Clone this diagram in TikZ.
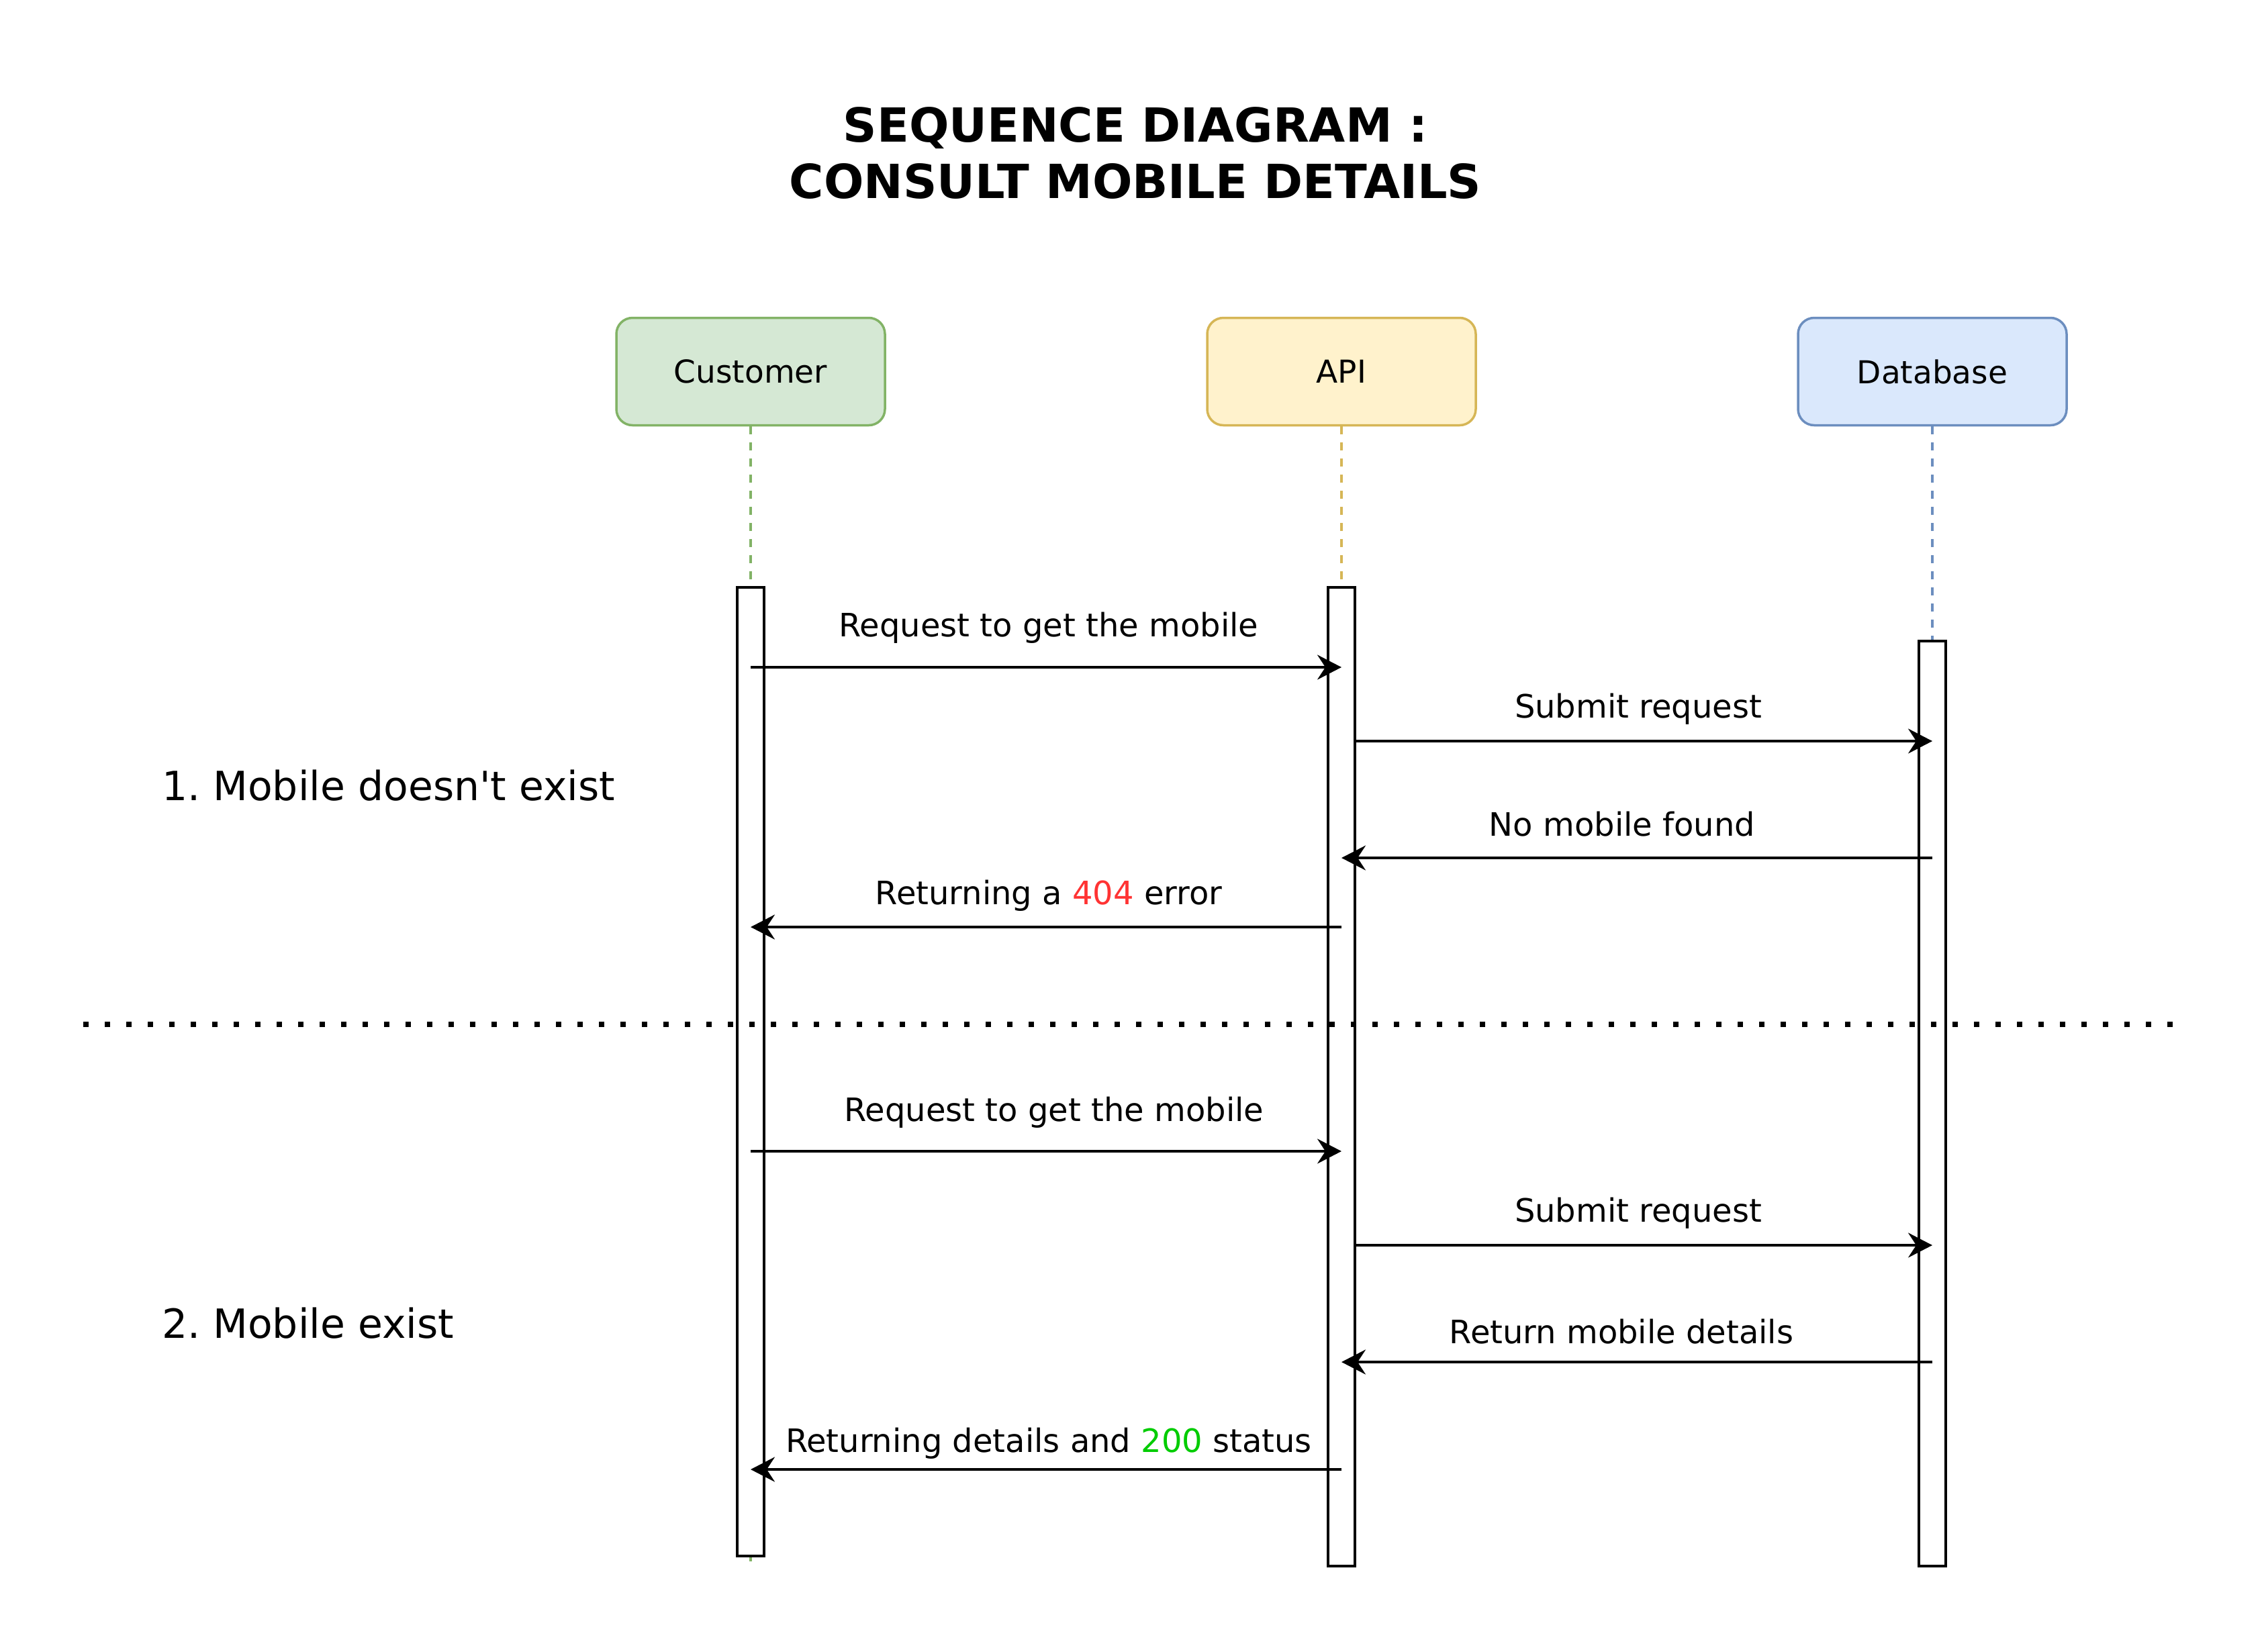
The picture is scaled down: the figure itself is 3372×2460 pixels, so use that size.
\documentclass[tikz,border=0pt]{standalone}
\usepackage{fontspec}
\setmainfont{DejaVu Sans}
\usetikzlibrary{arrows.meta}
\definecolor{gfill}{HTML}{D5E8D4}
\definecolor{gline}{HTML}{82B366}
\definecolor{yfill}{HTML}{FFF2CC}
\definecolor{yline}{HTML}{D6B656}
\definecolor{bfill}{HTML}{DAE8FC}
\definecolor{bline}{HTML}{6C8EBF}
\definecolor{errred}{HTML}{FF3333}
\definecolor{okgreen}{HTML}{00CC00}
\frenchspacing
\begin{document}
\begin{tikzpicture}[x=1pt,y=1pt,
  actor/.style={draw, rounded corners=24pt, line width=3.5pt, minimum width=400pt, minimum height=160pt, inner sep=0pt, font=\fontsize{47}{56}\selectfont},
  bar/.style={draw=black, fill=white, line width=3.5pt, minimum width=40pt, inner sep=0pt, anchor=north},
  lifeline/.style={line width=3.5pt, dash pattern=on 12pt off 12pt},
  msg/.style={line width=3.5pt, -{Stealth[length=36pt,width=37pt,inset=12pt]}},
  lbl/.style={anchor=base, inner sep=0pt, font=\fontsize{48}{56}\selectfont},
  sect/.style={anchor=base west, inner sep=0pt, font=\fontsize{60}{72}\selectfont},
  ttl/.style={anchor=base, inner sep=0pt, font=\fontsize{70}{84}\selectfont\bfseries},
  sep/.style={line width=8pt, dash pattern=on 8pt off 24pt}
]
\useasboundingbox (0,0) rectangle (3372,-2460);

% title
\node[ttl] (title1) at (1691,-211) {SEQUENCE DIAGRAM :};
\node[ttl] (title2) at (1691,-295) {CONSULT MOBILE DETAILS};

% actors
\node[actor, fill=gfill, draw=gline] (cust) at (1118,-553.5) {Customer};
\node[actor, fill=yfill, draw=yline] (api) at (1998,-553.5) {API};
\node[actor, fill=bfill, draw=bline] (db) at (2878,-553.5) {Database};

% lifeline ends
\coordinate (custend) at (1118,-2326);
\coordinate (apiend) at (1998,-2331);
\coordinate (dbend) at (2878,-2331);

\draw[lifeline, draw=gline] (cust.south) -- (custend);
\draw[lifeline, draw=yline] (api.south) -- (apiend);
\draw[lifeline, draw=bline] (db.south) -- (dbend);

% activation bars
\node[bar, minimum height=1443pt] (custbar) at (1118,-873) {};
\node[bar, minimum height=1458pt] (apibar) at (1998,-873) {};
\node[bar, minimum height=1378pt] (dbbar) at (2878,-953) {};

% section labels
\node[sect] (sec1) at (241,-1192) {1. Mobile doesn\textquotesingle t exist};
\node[sect] (sec2) at (241,-1993) {2. Mobile exist};

% separator
\coordinate (sepL) at (124,-1526);
\coordinate (sepR) at (3240,-1526);
\draw[sep] (sepL) -- (sepR);

% scenario 1
\draw[msg] (cust |- 0,-994) -- (api |- 0,-994);
\node[lbl] (l1) at (1562,-948) {Request to get the mobile};
\draw[msg] (apibar.east |- 0,-1104) -- (db |- 0,-1104);
\node[lbl] (l2) at (2440,-1069) {Submit request};
\draw[msg] (db |- 0,-1278) -- (api |- 0,-1278);
\node[lbl] (l3) at (2416,-1245) {No mobile found};
\draw[msg] (api |- 0,-1381) -- (cust |- 0,-1381);
\node[lbl] (l4) at (1562,-1347) {Returning a \textcolor{errred}{404} error};

% scenario 2
\draw[msg] (cust |- 0,-1715) -- (api |- 0,-1715);
\node[lbl] (l5) at (1570,-1670) {Request to get the mobile};
\draw[msg] (apibar.east |- 0,-1855) -- (db |- 0,-1855);
\node[lbl] (l6) at (2440,-1820) {Submit request};
\draw[msg] (db |- 0,-2029) -- (api |- 0,-2029);
\node[lbl] (l7) at (2415,-2001) {Return mobile details};
\draw[msg] (api |- 0,-2189) -- (cust |- 0,-2189);
\node[lbl] (l8) at (1562,-2163) {Returning details and \textcolor{okgreen}{200} status};
\end{tikzpicture}
\end{document}
